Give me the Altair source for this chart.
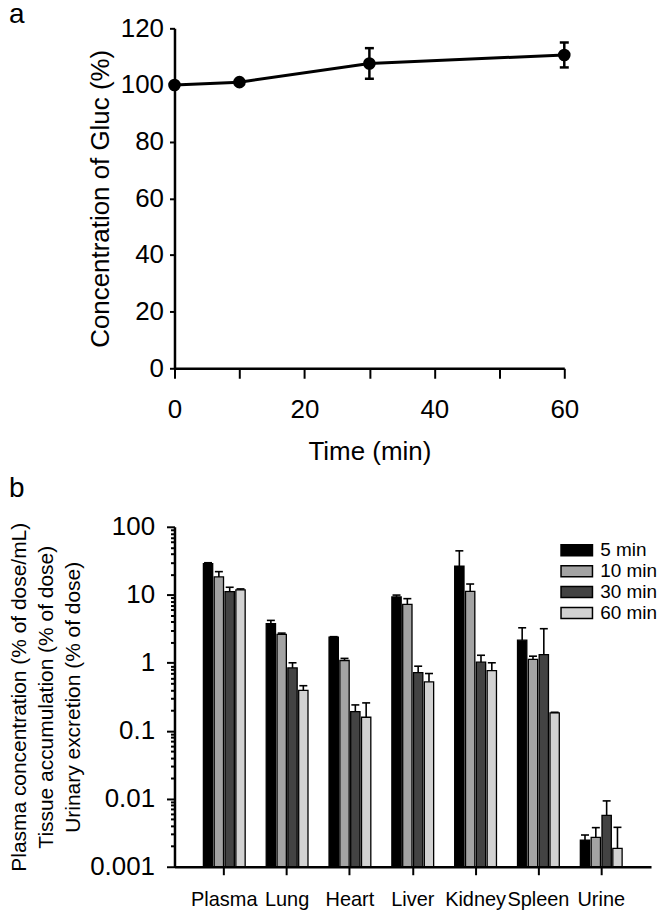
import altair as alt
import pandas as pd

FONT = "Liberation Sans"

# Panel a data
times = [0, 10, 30, 60]
gluc = [100.0, 101.0, 107.6, 110.6]
gluc_err = [0.0, 0.0, 5.4, 4.4]

# Panel b data
organs = ["Plasma", "Lung", "Heart", "Liver", "Kidney", "Spleen", "Urine"]
periods = ["5 min", "10 min", "30 min", "60 min"]
colors = ["#000000", "#a3a3a3", "#434343", "#d2d2d2"]
v5 = [28.8, 3.75, 2.39, 9.3, 26.3, 2.15, 0.00247]
v5_top = [29.6, 4.2, 2.42, 9.9, 44.3, 3.27, 0.00293]
v10 = [18.3, 2.61, 1.08, 7.23, 11.2, 1.12, 0.00271]
v10_top = [21.9, 2.73, 1.16, 8.77, 14.4, 1.25, 0.00376]
v30 = [11.1, 0.84, 0.191, 0.718, 1.02, 1.32, 0.00571]
v30_top = [12.9, 1.0, 0.24, 0.891, 1.29, 3.17, 0.0093]
v60 = [11.8, 0.394, 0.158, 0.524, 0.769, 0.183, 0.00186]
v60_top = [12.2, 0.46, 0.257, 0.695, 1.0, 0.187, 0.0038]
y_b_labels = ["0.001", "0.01", "0.1", "1", "10", "100"]

# ---------- Panel a ----------
dfa = pd.DataFrame({
    "t": times,
    "c": gluc,
    "lo": [g - e for g, e in zip(gluc, gluc_err)],
    "hi": [g + e for g, e in zip(gluc, gluc_err)],
    "e": gluc_err,
})
dfa_err = dfa[dfa["e"] > 0]
dfa_caps = pd.concat([
    pd.DataFrame({"t": dfa_err["t"], "y": dfa_err["lo"]}),
    pd.DataFrame({"t": dfa_err["t"], "y": dfa_err["hi"]}),
])

xa = alt.X("t:Q", scale=alt.Scale(domain=[0, 60], nice=False),
           axis=alt.Axis(values=list(range(0, 61, 10)),
                         labelExpr="datum.value % 20 == 0 ? datum.label : ''",
                         title="Time (min)", labelFontSize=26, titleFontSize=26,
                         tickSize=10, labelPadding=18, titlePadding=16, labelFlush=False))
ya = alt.Y("c:Q", scale=alt.Scale(domain=[0, 120], nice=False),
           axis=alt.Axis(values=list(range(0, 121, 10)),
                         labelExpr="datum.value % 20 == 0 ? datum.label : ''",
                         title="Concentration of Gluc (%)", labelFontSize=26, titleFontSize=26,
                         tickSize=5, labelPadding=6, titlePadding=7))

line_a = alt.Chart(dfa).mark_line(color="black", strokeWidth=3).encode(x=xa, y=ya)
pts_a = alt.Chart(dfa).mark_point(filled=True, color="black", size=160, opacity=1).encode(
    x="t:Q", y="c:Q")
err_a = alt.Chart(dfa_err).mark_rule(color="black", strokeWidth=2.5).encode(
    x="t:Q", y="lo:Q", y2="hi:Q")
caps_a = alt.Chart(dfa_caps).mark_point(shape="M-1,0L1,0", size=81, color="black",
                                        strokeWidth=2.5, filled=False, opacity=1).encode(
    x="t:Q", y="y:Q")
lab_a = alt.Chart(pd.DataFrame({"k": ["a"]})).mark_text(
    text="a", font=FONT, fontSize=28, align="left", baseline="middle", color="black").encode(
    x=alt.value(-166), y=alt.value(-13))

panel_a = alt.layer(line_a, err_a, caps_a, pts_a, lab_a).properties(width=391, height=341)

# ---------- Panel b ----------
rows = []
vals = [v5, v10, v30, v60]
tops = [v5_top, v10_top, v30_top, v60_top]
for pi, p in enumerate(periods):
    for oi, o in enumerate(organs):
        rows.append({"organ": o, "period": p, "value": vals[pi][oi], "top": tops[pi][oi]})
dfb = pd.DataFrame(rows)

minor = []
for d in [0.001, 0.01, 0.1, 1, 10]:
    for m in range(1, 10):
        minor.append(round(d * m, 6))
minor.append(100)

xb = alt.X("organ:N", sort=organs,
           scale=alt.Scale(paddingInner=0.335, paddingOuter=0.46),
           axis=alt.Axis(title=None, labelAngle=0, labelFontSize=20, tickSize=8,
                         labelPadding=15))
xo = alt.XOffset("period:N", sort=periods, scale=alt.Scale(paddingInner=0.14))
yb = alt.Y("value:Q", scale=alt.Scale(type="log", domain=[0.001, 100], nice=False),
           axis=alt.Axis(values=minor,
                         labelExpr="indexof(" + str(y_b_labels) + ", format(datum.value, '')) >= 0 ? format(datum.value, '') : ''",
                         tickSize={"condition": {"test": "abs(log(datum.value)/LN10 - round(log(datum.value)/LN10)) < 0.000001", "value": 8}, "value": 4},
                         title=["Plasma concentration (% of dose/mL)",
                                "Tissue accumulation (% of dose)",
                                "Urinary excretion (% of dose)"],
                         labelFontSize=26, titleFontSize=21, titleLineHeight=27,
                         labelPadding=12, titlePadding=6))

bars = alt.Chart(dfb).mark_bar(stroke="black", strokeWidth=1.3).encode(
    x=xb, xOffset=xo, y=yb, y2=alt.datum(0.001),
    fill=alt.Fill("period:N", sort=periods,
                  scale=alt.Scale(domain=periods, range=colors),
                  legend=alt.Legend(title=None, orient="none", legendX=393, legendY=513,
                                    symbolType="M-1.66,-0.58H1.66V0.58H-1.66Z", symbolSize=361,
                                    symbolStrokeColor="black", symbolStrokeWidth=1.5,
                                    labelFontSize=19, labelFont=FONT, labelColor="black",
                                    rowPadding=0, labelOffset=13)))
err_b = alt.Chart(dfb).mark_rule(color="black", strokeWidth=1.6).encode(
    x=alt.X("organ:N", sort=organs), xOffset=alt.XOffset("period:N", sort=periods),
    y="value:Q", y2="top:Q")
caps_b = alt.Chart(dfb).mark_point(shape="M-1,0L1,0", size=64, color="black",
                                   strokeWidth=1.6, filled=False, opacity=1).encode(
    x=alt.X("organ:N", sort=organs), xOffset=alt.XOffset("period:N", sort=periods),
    y="top:Q")
lab_b = alt.Chart(pd.DataFrame({"k": ["b"]})).mark_text(
    text="b", font=FONT, fontSize=28, align="left", baseline="middle", color="black").encode(
    x=alt.value(-166), y=alt.value(-38))

panel_b = alt.layer(bars, err_b, caps_b, lab_b).properties(width=478, height=341)

chart = alt.vconcat(panel_a, panel_b, spacing=11).configure_view(stroke=None).configure_axis(
    domainColor="black", domainWidth=2.5, tickColor="black", tickWidth=2,
    labelColor="black", titleColor="black", grid=False,
    labelFont=FONT, titleFont=FONT, titleFontWeight="normal"
).properties(padding={"left": 0, "top": -8, "right": 0, "bottom": 0})

chart.save("out.html", embed_options={"renderer": "svg", "actions": False})
